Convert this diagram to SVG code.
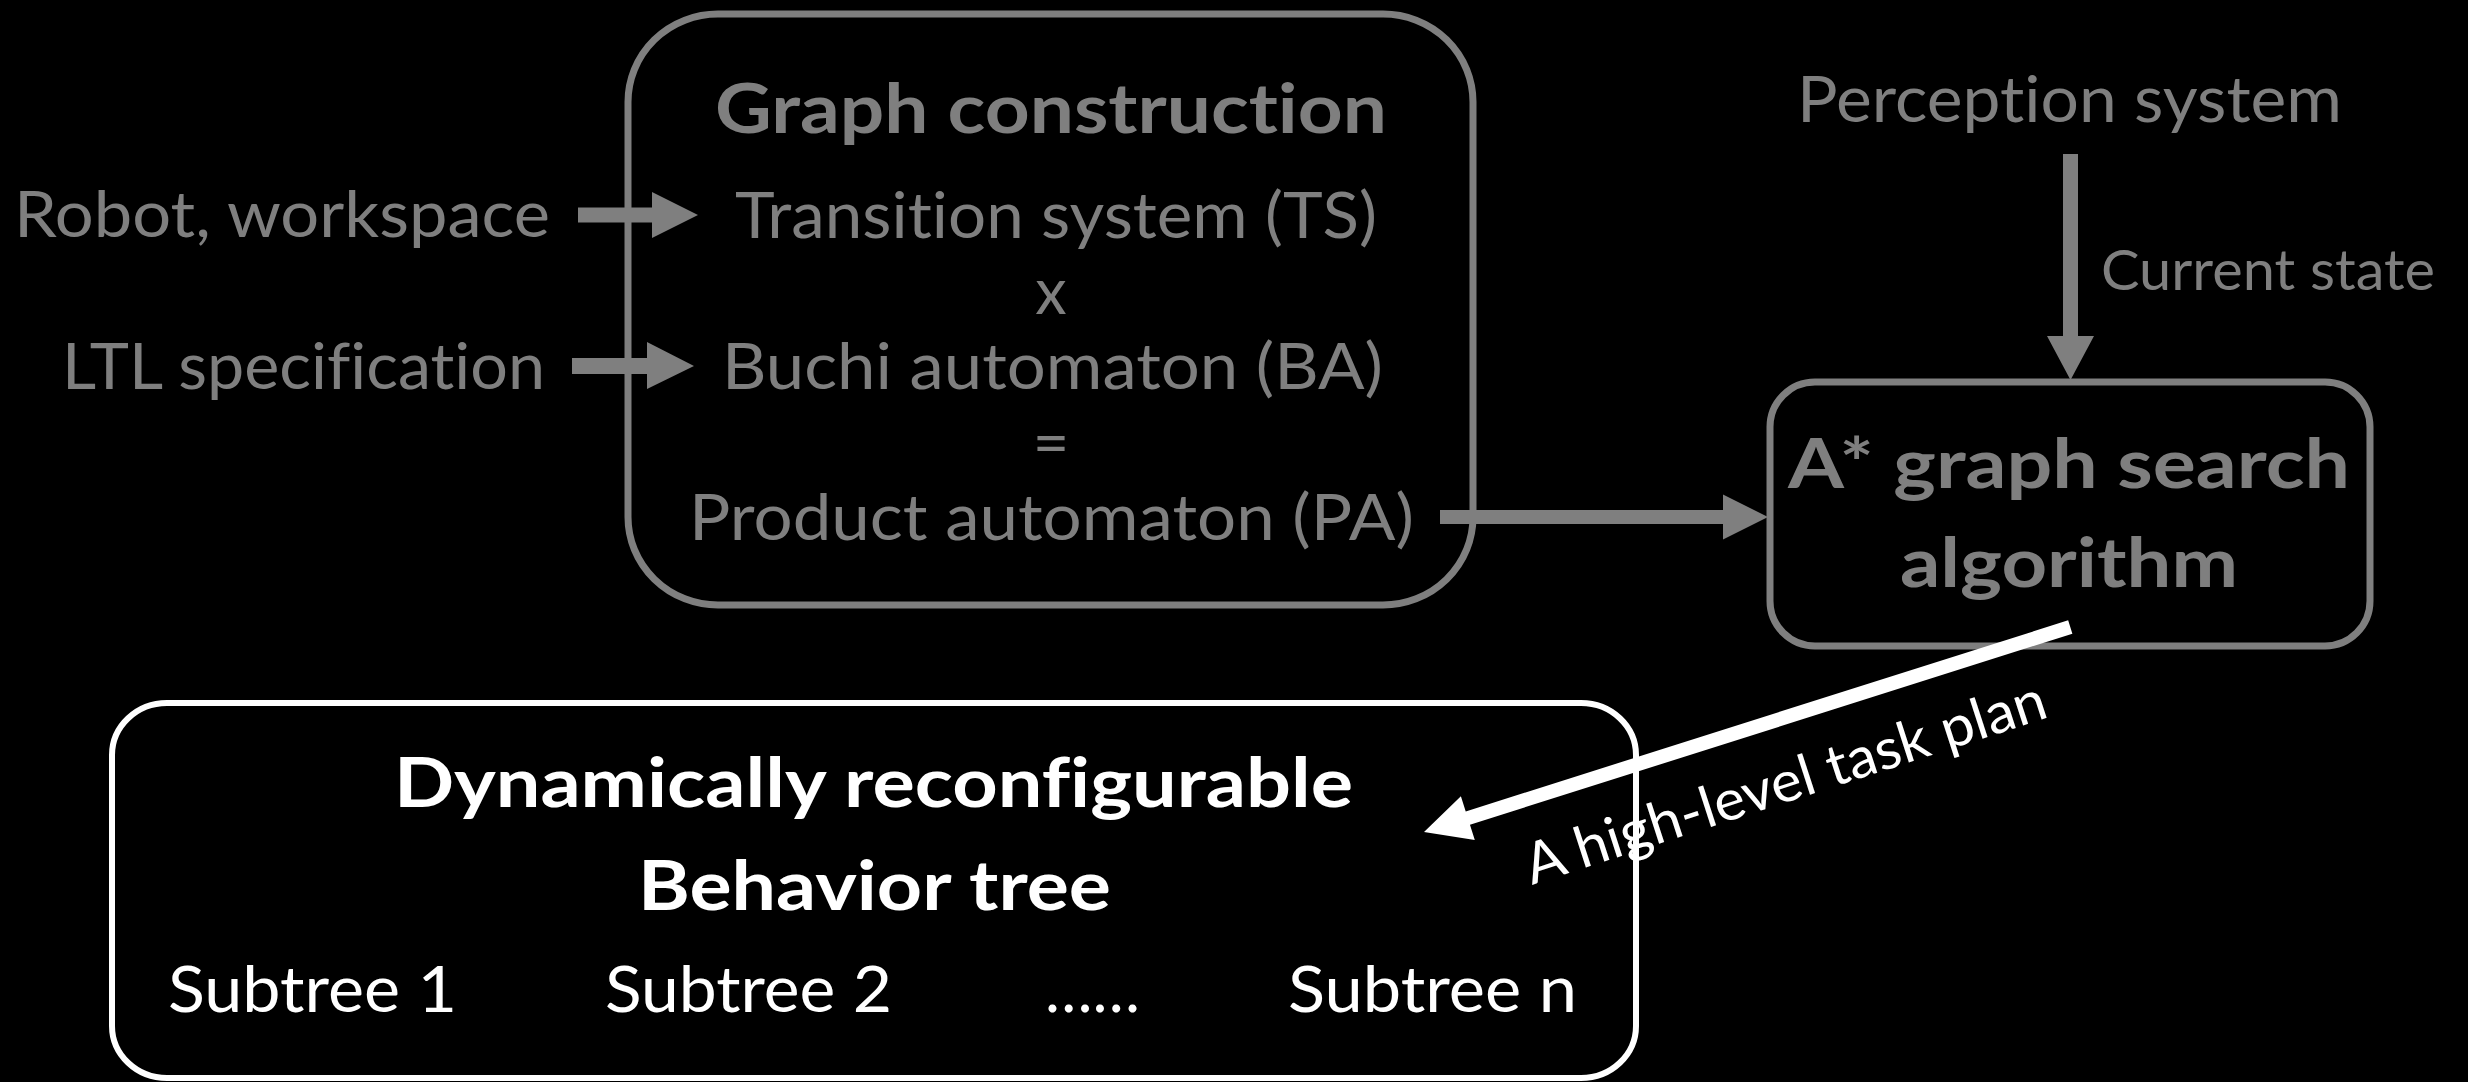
<svg xmlns="http://www.w3.org/2000/svg" width="2468" height="1082" viewBox="0 0 2468 1082">
  <style>
    .grey { fill: #7f7f7f; }
    .white { fill: #ffffff; }
    .txt { font-family: Lato, "Open Sans", "Liberation Sans", sans-serif; font-variant-ligatures: none; font-feature-settings: "liga" 0, "dlig" 0; }
    .reg { font-size: 63px; font-weight: 400; }
    .small { font-size: 57px; font-weight: 400; }
    .bold { font-size: 69px; font-weight: 700; }
    .box-grey { fill: none; stroke: #7f7f7f; stroke-width: 7; }
    .box-white { fill: none; stroke: #ffffff; stroke-width: 6; }
  </style>

  <rect x="0" y="0" width="2468" height="1082" fill="#000000"/>

  <!-- inputs on the left -->
  <g id="input-robot">
    <text class="txt reg grey" x="14" y="237" textLength="536" lengthAdjust="spacingAndGlyphs">Robot, workspace</text>
  </g>
  <g id="input-ltl">
    <text class="txt reg grey" x="62" y="389" textLength="483" lengthAdjust="spacingAndGlyphs">LTL specification</text>
  </g>

  <!-- graph construction block -->
  <g id="graph-construction">
    <rect class="box-grey" x="628" y="14" width="845" height="591" rx="90" ry="88"/>
    <text class="txt bold grey" x="715" y="133" textLength="672" lengthAdjust="spacingAndGlyphs">Graph construction</text>
    <text class="txt reg grey" x="735" y="238" textLength="642" lengthAdjust="spacingAndGlyphs">Transition system (TS)</text>
    <text class="txt reg grey" x="1051" y="314" text-anchor="middle">x</text>
    <text class="txt reg grey" x="722" y="389" textLength="661" lengthAdjust="spacingAndGlyphs">Buchi automaton (BA)</text>
    <text class="txt reg grey" x="1051" y="465" text-anchor="middle">=</text>
    <text class="txt reg grey" x="689" y="540" textLength="725" lengthAdjust="spacingAndGlyphs">Product automaton (PA)</text>
  </g>

  <!-- perception source -->
  <g id="perception">
    <text class="txt reg grey" x="1797" y="122" textLength="545" lengthAdjust="spacingAndGlyphs">Perception system</text>
  </g>

  <!-- planner -->
  <g id="astar">
    <rect class="box-grey" x="1770" y="382" width="600" height="264" rx="45" ry="45"/>
    <text class="txt bold grey" x="1788" y="488" textLength="562" lengthAdjust="spacingAndGlyphs">A* graph search</text>
    <text class="txt bold grey" x="1900" y="587" textLength="338" lengthAdjust="spacingAndGlyphs">algorithm</text>
  </g>

  <!-- behavior tree -->
  <g id="behavior-tree">
    <rect class="box-white" x="112" y="703" width="1524" height="375" rx="55" ry="52"/>
    <text class="txt bold white" x="394" y="807" textLength="959" lengthAdjust="spacingAndGlyphs">Dynamically reconfigurable</text>
    <text class="txt bold white" x="638" y="910" textLength="473" lengthAdjust="spacingAndGlyphs">Behavior tree</text>
    <text class="txt reg white" x="168" y="1012" textLength="289" lengthAdjust="spacingAndGlyphs">Subtree 1</text>
    <text class="txt reg white" x="605" y="1012" textLength="287" lengthAdjust="spacingAndGlyphs">Subtree 2</text>
    <text class="txt reg white" x="1045" y="1012" textLength="95" lengthAdjust="spacingAndGlyphs">……</text>
    <text class="txt reg white" x="1288" y="1012" textLength="289" lengthAdjust="spacingAndGlyphs">Subtree n</text>
  </g>

  <!-- connectors: block arrows -->
  <g id="connectors">
    <polygon class="grey" points="578,207.5 652,207.5 652,192 698,215 652,238 652,222.5 578,222.5"/>
    <polygon class="grey" points="572,358 647,358 647,342 694,366 647,389 647,374 572,374"/>
    <polygon class="grey" points="1440,510 1723,510 1723,494.5 1768,517 1723,539.5 1723,524 1440,524"/>
    <polygon class="grey" points="2063,154 2078,154 2078,336 2094,336 2070.5,380 2047,336 2063,336"/>
    <polygon class="white" transform="translate(1424,832) rotate(-17.6)" points="0,0 46,-23 46,-7 678,-7 678,7 46,7 46,23"/>
    <text class="txt small grey" x="2101" y="290" textLength="334" lengthAdjust="spacingAndGlyphs">Current state</text>
    <text class="txt small white" transform="translate(1532,885) rotate(-18)" x="0" y="0" textLength="545" lengthAdjust="spacingAndGlyphs">A high-level task plan</text>
  </g>
</svg>
